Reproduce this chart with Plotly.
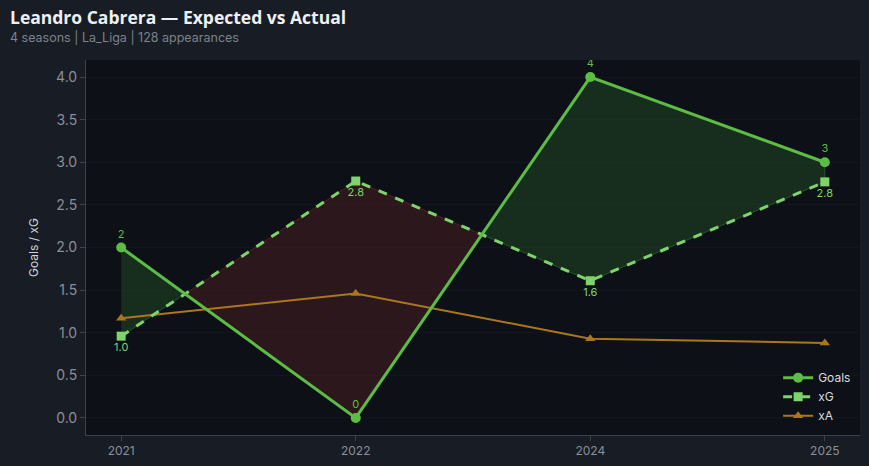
import plotly.graph_objects as go

seasons = ["2021", "2022", "2024", "2025"]
goals = [2, 0, 4, 3]
xg = [0.96, 2.78, 1.61, 2.77]
xa = [1.17, 1.46, 0.93, 0.88]
goal_labels = ["2", "0", "4", "3"]
xg_labels = ["1.0", "2.8", "1.6", "2.8"]

GOAL_C = "#5cbd45"
XG_C = "#7ed36a"
XA_C = "#ab771d"
POS_FILL = "rgba(60,150,60,0.22)"
NEG_FILL = "rgba(150,50,50,0.22)"

xs = list(range(len(seasons)))

# build contiguous fill regions between goals and xG
pts = []
for i in range(len(xs)):
    pts.append((xs[i], goals[i], xg[i]))
    if i < len(xs) - 1:
        d0 = goals[i] - xg[i]
        d1 = goals[i + 1] - xg[i + 1]
        if d0 * d1 < 0:
            t = d0 / (d0 - d1)
            xc = xs[i] + t
            yc = goals[i] + t * (goals[i + 1] - goals[i])
            pts.append((xc, yc, yc))

regions = []
cur = []
cur_sign = None
for p in pts:
    d = p[1] - p[2]
    s = None if d == 0 else (1 if d > 0 else -1)
    if s is None:
        cur.append(p)
        if cur_sign is not None:
            regions.append((cur_sign, cur))
        cur = [p]
        cur_sign = None
        continue
    if cur_sign is None or cur_sign == s:
        cur.append(p)
        cur_sign = s
    else:
        regions.append((cur_sign, cur))
        cur = [cur[-1], p]
        cur_sign = s
if cur_sign is not None:
    regions.append((cur_sign, cur))

fig = go.Figure()
for s, reg in regions:
    px = [p[0] for p in reg] + [p[0] for p in reversed(reg)]
    py = [p[1] for p in reg] + [p[2] for p in reversed(reg)]
    fc = POS_FILL if s > 0 else NEG_FILL
    lc = "rgba(60,150,60,0.45)" if s > 0 else "rgba(150,50,50,0.45)"
    fig.add_trace(go.Scatter(x=px, y=py, fill="toself", fillcolor=fc,
                             line=dict(color=lc, width=1), mode="lines",
                             showlegend=False, hoverinfo="skip"))

fig.add_trace(go.Scatter(x=xs, y=xa, name="xA", mode="lines+markers",
                         line=dict(color=XA_C, width=2),
                         marker=dict(symbol="triangle-up", size=9, color=XA_C)))
fig.add_trace(go.Scatter(x=xs, y=xg, name="xG", mode="lines+markers+text",
                         line=dict(color=XG_C, width=3, dash="dash"),
                         marker=dict(symbol="square", size=9, color=XG_C),
                         text=xg_labels, textposition="bottom center",
                         textfont=dict(color=XG_C, size=11)))
fig.add_trace(go.Scatter(x=xs, y=goals, name="Goals", mode="lines+markers+text",
                         line=dict(color=GOAL_C, width=3),
                         marker=dict(symbol="circle", size=10, color=GOAL_C),
                         text=goal_labels, textposition="top center",
                         textfont=dict(color=GOAL_C, size=11)))

fig.update_layout(
    width=869, height=466,
    paper_bgcolor="#181c24", plot_bgcolor="#0d1017",
    margin=dict(l=86, r=9, t=60, b=31),
    font=dict(family="Inter, sans-serif", color="#8a8f99", size=12),
    showlegend=True,
    legend=dict(x=0.995, y=0.013, xanchor="right", yanchor="bottom",
                bgcolor="rgba(0,0,0,0)", font=dict(color="#d8dbe0", size=12),
                traceorder="reversed", tracegroupgap=0, itemwidth=30),
    xaxis=dict(tickvals=xs, ticktext=seasons, range=[-0.15, 3.15],
               showgrid=False, zeroline=False, showline=True,
               linecolor="#3c414c", ticks="outside", tickcolor="#3c414c",
               ticklen=5, tickfont=dict(color="#8a8f99", size=12)),
    yaxis=dict(range=[-0.2, 4.2], dtick=0.5, tickformat=".1f",
               showgrid=True, gridcolor="#11151c", zeroline=False,
               showline=True, linecolor="#3c414c", ticks="outside",
               tickcolor="#3c414c", ticklen=5,
               tickfont=dict(color="#8a8f99", size=14),
               title=dict(text="Goals / xG", font=dict(color="#d0d3d8", size=12), standoff=14)),
    annotations=[
        dict(text="<b>Leandro Cabrera — Expected vs Actual</b>", xref="paper", yref="paper",
             x=-78/774, y=1 + 43/375, xanchor="left", yanchor="middle", showarrow=False,
             font=dict(family="Open Sans, sans-serif", size=17.5, color="#eef0f3")),
        dict(text="4 seasons | La_Liga | 128 appearances", xref="paper", yref="paper",
             x=-78/774, y=1 + 23/375, xanchor="left", yanchor="middle", showarrow=False,
             font=dict(family="Inter, sans-serif", size=12.5, color="#7d828c")),
    ],
)

fig.write_html("out.html", config={"displayModeBar": False},
               post_script="document.body.style.margin='0';document.body.style.background='#181c24';")
